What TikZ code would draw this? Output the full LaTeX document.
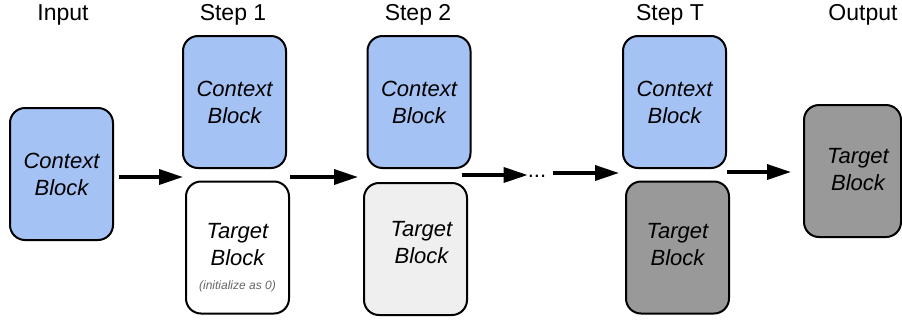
\documentclass[tikz,border=0pt]{standalone}
\usepackage{fontspec}
\setmainfont{Liberation Sans}
\usetikzlibrary{arrows.meta}
\definecolor{ctxblue}{HTML}{A4C2F4}
\definecolor{tgtlight}{HTML}{EFEFEF}
\definecolor{tgtdark}{HTML}{999999}
\definecolor{notegray}{HTML}{666666}
% block text moved off the centre of its box
\newcommand{\blocktext}[3]{\hspace*{#1}\raisebox{#2}[0pt][0pt]{\begin{tabular}{@{}c@{}}#3\end{tabular}}}

\begin{document}
\begin{tikzpicture}[x = 1pt, y = -1pt,
	block/.style = {draw, line width = 2pt, rounded corners = 15pt,
		minimum width = 103pt, minimum height = 132pt, inner sep = 0pt,
		align = center, font = \fontsize{22}{27}\selectfont\itshape},
	ctx/.style = {block, fill = ctxblue},
	flow/.style = {line width = 3.5pt, -{Triangle[length=24pt, width=15pt]}},
	title/.style = {anchor = base, font = \fontsize{23}{27}\selectfont}]
\useasboundingbox (0,0) rectangle (902,322);

\node[title] (tin)  at (63,20)  {Input};
\node[title] (ts1)  at (233,20) {Step 1};
\node[title] (ts2)  at (418,20) {Step 2};
\node[title] (tsT)  at (670,20) {Step T};
\node[title] (tout) at (863,20) {Output};

\node[ctx] (in) at (61.5,174) {Context\\Block};
\node[ctx] (c1) at (234.5,102) {Context\\Block};
\node[block, fill = white] (t1) at (237.5,247.5)
	{\blocktext{0pt}{-16.5pt}{Target\\Block\\[-3pt]{\fontsize{12}{14}\selectfont\color{notegray}(initialize as 0)}}};
\node[ctx] (c2) at (419,102) {Context\\Block};
\node[block, fill = tgtlight] (t2) at (415.5,249) {\blocktext{12pt}{-1pt}{Target\\Block}};
\node[ctx] (cT) at (674.5,102) {Context\\Block};
\node[block, fill = tgtdark] (tT) at (677.5,247.5) {\blocktext{0pt}{-4pt}{Target\\Block}};
\node[block, fill = tgtdark, minimum width = 97pt] (out) at (852.5,171) {\blocktext{11pt}{-6pt}{Target\\Block}};

\coordinate (s1)  at (183,177);
\coordinate (s2a) at (290,177);
\coordinate (s2b) at (358,177);
\coordinate (s3)  at (462,175);
\coordinate (s4)  at (553,173);
\coordinate (s5)  at (727,172);
\node[anchor = base, inner sep = 0pt, font = \fontsize{22}{27}\selectfont] (dots) at (537,177) {...};

\draw[flow, shorten <= 5pt] (in.east |- s1) -- (s1);
\draw[flow] (s2a) -- (s2b);
\draw[flow] (s3) -- (dots.west |- s3);
\draw[flow, shorten >= 3pt] (s4) -- (cT.west |- s4);
\draw[flow, shorten >= 12pt] (s5) -- (out.west |- s5);
\end{tikzpicture}
\end{document}
